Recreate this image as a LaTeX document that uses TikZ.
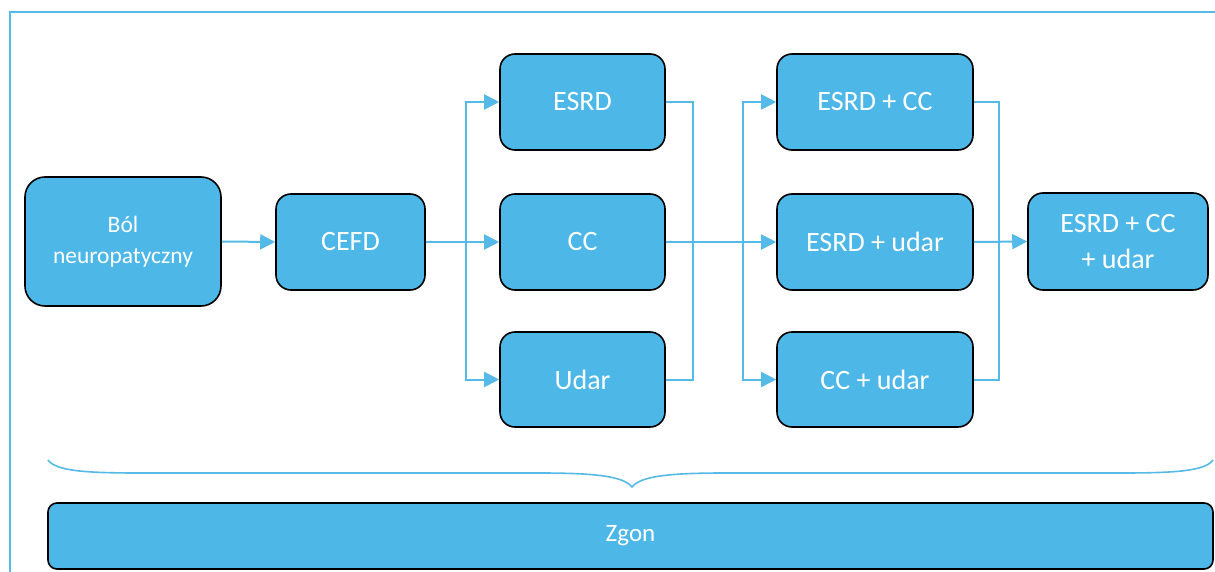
\documentclass[tikz,border=0pt]{standalone}
\usepackage{fontspec}
\setmainfont{Carlito}
\usetikzlibrary{arrows.meta}
\definecolor{boxblue}{RGB}{77,183,232}
\definecolor{lineblue}{RGB}{86,186,233}
\tikzset{
  box/.style={draw=black, line width=1.6pt, fill=boxblue, rounded corners=15pt,
    text=white, font=\fontsize{28}{36}\selectfont, align=center, inner sep=0pt},
  conn/.style={draw=lineblue, line width=2pt},
  arr/.style={conn, -{Triangle[length=15pt,width=15pt]}},
}
\begin{document}
\begin{tikzpicture}[x=1pt,y=-1pt]
\useasboundingbox (0,0) rectangle (1215,572);
% outer frame
\draw[draw=lineblue, line width=2pt] (9.5,572) -- (9.5,12.5) -- (1215,12.5);
% boxes
\node[box, rounded corners=20pt, minimum width=196pt, minimum height=129pt,
  font=\fontsize{23.5}{31}\selectfont] (bol) at (123,241.5) {Ból\\neuropatyczny};
\node[box, minimum width=149pt, minimum height=96pt] (cefd) at (350.5,242) {CEFD};
\node[box, minimum width=165pt, minimum height=96pt] (esrd) at (582.5,102) {ESRD};
\node[box, minimum width=165pt, minimum height=96pt] (cc) at (582.5,242) {CC};
\node[box, minimum width=165pt, minimum height=95pt] (udar) at (582.5,379.5) {Udar};
\node[box, minimum width=196pt, minimum height=96pt] (ec) at (875,102) {ESRD + CC};
\node[box, minimum width=196pt, minimum height=96pt] (eu) at (875,242) {ESRD + udar};
\node[box, minimum width=196pt, minimum height=95pt] (cu) at (875,379.5) {CC + udar};
\node[box, minimum width=180pt, minimum height=97pt] (fin) at (1118,241.5) {ESRD + CC\\+ udar};
\node[box, rounded corners=9pt, minimum width=1165pt, minimum height=66pt,
  font=\fontsize{25}{30}\selectfont] (zgon) at (630.5,536) {Zgon};
% junction coordinates
\coordinate (s1) at (466,242);
\coordinate (j1) at (693,242);
\coordinate (s2) at (743,242);
\coordinate (j2) at (999,242);
% connectors
\draw[arr] (bol.east) -- (cefd.west);
\draw[arr] (cefd.east) -- (cc.west);
\draw[arr] (s1) |- (esrd.west);
\draw[arr] (s1) |- (udar.west);
\draw[conn] (esrd.east) -| (j1) |- (udar.east);
\draw[arr] (cc.east) -- (eu.west);
\draw[arr] (s2) |- (ec.west);
\draw[arr] (s2) |- (cu.west);
\draw[conn] (ec.east) -| (j2) |- (cu.east);
\draw[arr] (eu.east) -- (fin.west);
% brace
\draw[draw=lineblue, line width=1.6pt]
  (48,460) .. controls (56,471) and (85,473) .. (140,473) -- (540,473)
  .. controls (600,473) and (624,477) .. (632,487)
  .. controls (640,477) and (664,473) .. (724,473) -- (1121,473)
  .. controls (1176,473) and (1205,471) .. (1213,460);
\end{tikzpicture}
\end{document}
